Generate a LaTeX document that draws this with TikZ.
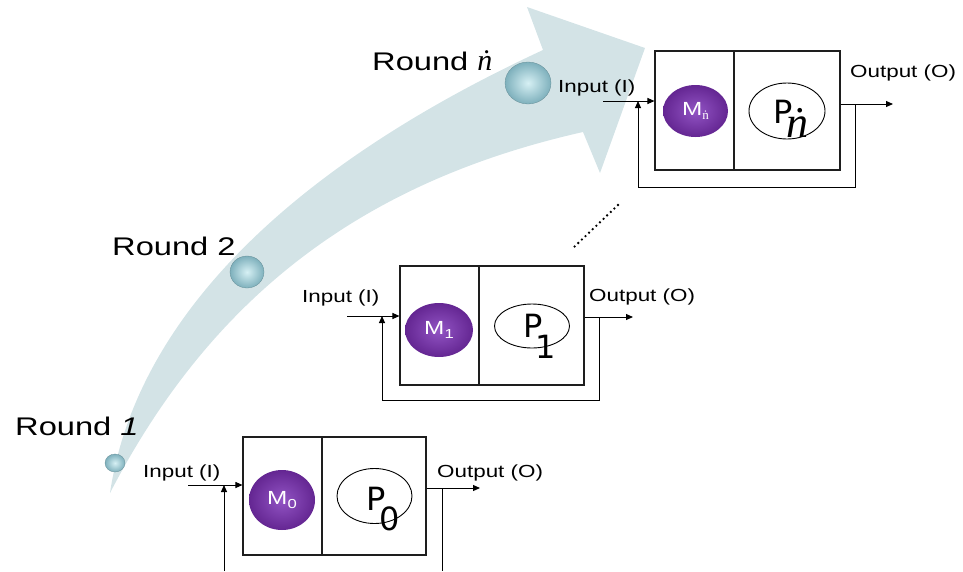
\documentclass[tikz,border=0pt]{standalone}
\usepackage{fontspec}
\setmainfont[FakeStretch=1.28]{Liberation Sans}
\newfontfamily\pfont{DejaVu Sans}
\newfontfamily\nfont{Liberation Serif}
\usetikzlibrary{shapes.geometric,arrows.meta}

\definecolor{band}{RGB}{211,227,230}
\definecolor{mlight}{RGB}{146,84,196}
\definecolor{mdark}{RGB}{100,38,146}
\definecolor{blight}{RGB}{214,240,244}
\definecolor{bdark}{RGB}{126,176,188}
\definecolor{linec}{RGB}{30,30,30}

% small subscript used inside the purple model ellipses
\newcommand\msub[1]{\raisebox{-3.5pt}{\fontsize{13}{14}\selectfont #1}}
% the italic round index
\newcommand\rn{{\nfont\itshape ṅ}}

\begin{document}
\begin{tikzpicture}[x=1pt,y=-1pt,
  frame/.style={draw=linec,line width=1.1pt,inner sep=0pt},
  wire/.style={draw=black,line width=1pt},
  flow/.style={-{Triangle[length=7pt,width=6pt]}},
  mnode/.style={ellipse,shade,inner color=mlight,outer color=mdark,draw=none,
    inner sep=0pt,text=white,font=\fontsize{19}{22}\selectfont},
  pnode/.style={ellipse,draw=black,line width=0.9pt,fill=white,inner sep=0pt},
  ball/.style={ellipse,shade,inner color=blight,outer color=bdark,inner sep=0pt,
    draw=bdark!80!black,line width=0.3pt},
  lbl/.style={font=\fontsize{17.5}{20}\selectfont,inner sep=0pt,anchor=base west},
  rlbl/.style={font=\fontsize{25.5}{30}\selectfont,inner sep=0pt,anchor=base west},
  ptext/.style={font=\pfont\fontsize{32}{36}\selectfont,inner sep=0pt,anchor=base west},
  dots/.style={line width=2.6pt,dash pattern=on 0pt off 5pt,line cap=round}]

\useasboundingbox (0,0) rectangle (963,571);

% ---- curved progress arrow -------------------------------------------
\fill[band] (110,493) .. controls (135,325) and (280,172) .. (543,50)
  -- (527,7) -- (645,48) -- (600,173) -- (583,132)
  .. controls (370,180) and (215,290) .. (110,493) -- cycle;

% round markers
\node[ball,minimum width=46pt,minimum height=42pt] (bn) at (528,83) {};
\node[ball,minimum width=34pt,minimum height=32pt] (b2) at (247,272) {};
\node[ball,minimum width=20pt,minimum height=18pt] (b1) at (115,463) {};

\node[rlbl] (rnl) at (372,70) {Round {\fontsize{30}{34}\selectfont\rn}};
\node[rlbl] (r2) at (112,255) {Round 2};
\node[rlbl] (r1) at (15,435) {Round \textit{1}};

% ---- stage n ----------------------------------------------------------
\node[frame,minimum width=185pt,minimum height=119pt] (bxn) at (747.5,110.5) {};
\draw[frame] (734,0 |- bxn.north) -- (734,0 |- bxn.south);
\node[mnode,minimum width=65pt,minimum height=52pt] (mn) at (695.5,111)
  {M\msub{\nfont ṅ}};
\node[pnode,minimum width=76pt,minimum height=56pt] (pn) at (787,111) {};
\node[ptext] (pnt) at (773,123) {P};
\node[inner sep=0pt,anchor=base west,font=\fontsize{44}{48}\selectfont] (pns) at (786,137) {\rn};

\coordinate (inn) at (603,101);
\coordinate (jn) at (638,101);
\coordinate (brn) at (855,104);
\coordinate (outn) at (893,104);
\coordinate (fbn) at (855,187);
\coordinate (fbnb) at (638,187);
\draw[wire,flow] (inn) -- (bxn.west |- inn);
\draw[wire,flow] (bxn.east |- outn) -- (outn);
\draw[wire,flow] (brn) -- (fbn) -- (fbnb) -- (jn);
\node[lbl] (inlbln) at (558,92) {Input (I)};
\node[lbl] (outlbln) at (850,77) {Output (O)};

% ---- stage 1 ----------------------------------------------------------
\node[frame,minimum width=184pt,minimum height=119pt] (bx1) at (492,325.5) {};
\draw[frame] (479,0 |- bx1.north) -- (479,0 |- bx1.south);
\node[mnode,minimum width=68pt,minimum height=54pt] (m1) at (439,330) {M\msub{1}};
\node[pnode,minimum width=75pt,minimum height=44pt] (p1) at (532,326) {};
\node[ptext] (p1t) at (523,337) {P};
\node[ptext] (p1s) at (535,358) {1};

\coordinate (in1) at (347,316);
\coordinate (j1) at (382,316);
\coordinate (br1) at (599,317);
\coordinate (out1) at (633,317);
\coordinate (fb1) at (599,400);
\coordinate (fb1b) at (382,400);
\draw[wire,flow] (in1) -- (bx1.west |- in1);
\draw[wire,flow] (bx1.east |- out1) -- (out1);
\draw[wire,flow] (br1) -- (fb1) -- (fb1b) -- (j1);
\node[lbl] (inlbl1) at (302,302) {Input (I)};
\node[lbl] (outlbl1) at (589,301) {Output (O)};

% ---- stage 0 ----------------------------------------------------------
\node[frame,minimum width=183pt,minimum height=118pt] (bx0) at (334.5,496) {};
\draw[frame] (322,0 |- bx0.north) -- (322,0 |- bx0.south);
\node[mnode,minimum width=66pt,minimum height=60pt] (m0) at (282,500) {M\msub{0}};
\node[pnode,minimum width=75pt,minimum height=55pt] (p0) at (374.5,496) {};
\node[ptext] (p0t) at (366,510) {P};
\node[ptext] (p0s) at (379,530) {0};

\coordinate (in0) at (188,485);
\coordinate (j0) at (224,485);
\coordinate (br0) at (442,488);
\coordinate (out0) at (480,488);
\coordinate (e0) at (442,571);
\coordinate (s0) at (224,571);
\draw[wire,flow] (in0) -- (bx0.west |- in0);
\draw[wire,flow] (bx0.east |- out0) -- (out0);
\draw[wire] (br0) -- (e0);
\draw[wire,flow] (s0) -- (j0);
\node[lbl] (inlbl0) at (143,477) {Input (I)};
\node[lbl] (outlbl0) at (437,477) {Output (O)};

% ---- ellipsis between stage 1 and stage n -----------------------------
\coordinate (d1) at (618,205);
\coordinate (d2) at (572,249);
\draw[dots] (d1) -- (d2);

\end{tikzpicture}
\end{document}
